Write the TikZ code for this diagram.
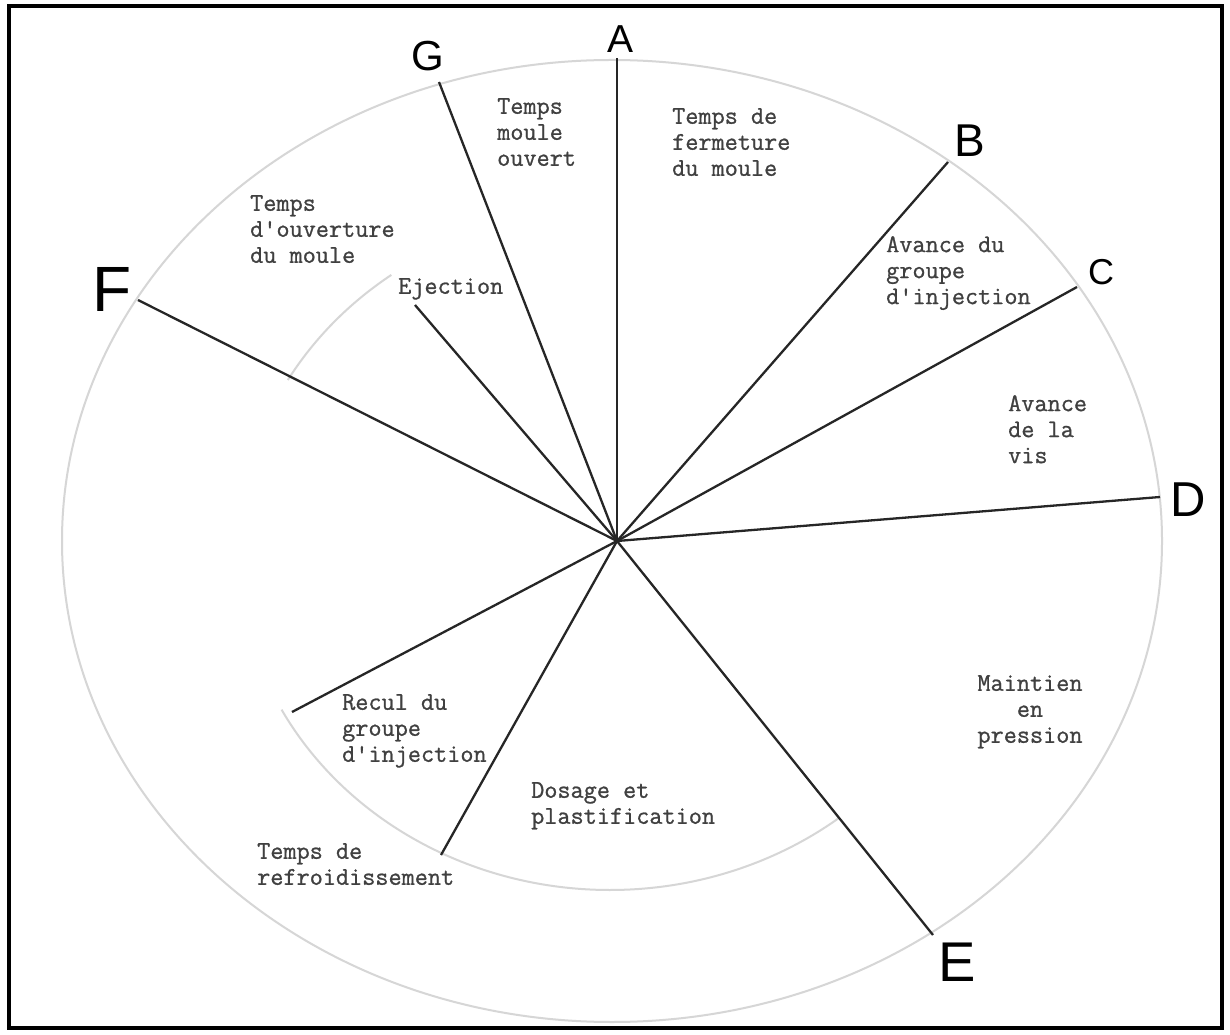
\documentclass[tikz,border=0pt]{standalone}
\usepackage{fontspec}
\newfontfamily\handfont{Liberation Sans}
\newfontfamily\twfont{Latin Modern Mono}[FakeBold=0.9]
\definecolor{ink}{HTML}{262626}
\definecolor{twink}{HTML}{404040}
\definecolor{faint}{HTML}{D6D6D6}
\begin{document}
\begin{tikzpicture}[x=1pt,y=1pt,
  ray/.style={draw=ink,line width=2.3pt},
  ring/.style={draw=faint,line width=2pt},
  tw/.style={inner sep=0pt,text=twink,align=left,anchor=north west,
    font={\twfont\fontsize{25.5}{26}\selectfont}},
  twc/.style={tw,align=center,anchor=north},
  letter/.style={inner sep=0pt,text=black,anchor=center},
]
\useasboundingbox (0,0) rectangle (1230,1034);
\fill[white] (0,0) rectangle (1230,1034);
\draw[line width=4pt,black] (9,6) rectangle (1222,1028);

% centres
\coordinate (O) at (617,493);
\coordinate (oc) at (612,493);
\coordinate (ic) at (610,484);

% faint circles
\draw[ring] (oc) ellipse [x radius=550pt, y radius=481pt];
\draw[ring] ([shift={(126:372pt and 340pt)}]ic) arc[start angle=126,end angle=150,x radius=372pt,y radius=340pt];
\draw[ring] ([shift={(208:372pt and 340pt)}]ic) arc[start angle=208,end angle=308,x radius=372pt,y radius=340pt];

% ray ends
\coordinate (pA) at (617,976);
\coordinate (pB) at (948,872);
\coordinate (pC) at (1077,747);
\coordinate (pD) at (1160,537);
\coordinate (pE) at (933,99);
\coordinate (pF) at (138,734);
\coordinate (pG) at (439,952);
\coordinate (pEj) at (415,729);
\coordinate (pRe) at (292,322);
\coordinate (pDo) at (441,179);

\foreach \p in {pA,pB,pC,pD,pE,pF,pG,pEj,pRe,pDo} \draw[ray] (O) -- (\p);

% big letters
\node[letter,font={\handfont\fontsize{39}{39}\selectfont}] (lA) at (620,995) {A};
\node[letter,font={\handfont\fontsize{42}{42}\selectfont}] (lG) at (428,978) {G};
\node[letter,font={\handfont\fontsize{64}{64}\selectfont}] (lF) at (112,745) {F};
\node[letter,font={\handfont\fontsize{46}{46}\selectfont}] (lB) at (970,893) {B};
\node[letter,font={\handfont\fontsize{36}{36}\selectfont}] (lC) at (1101,762) {C};
\node[letter,font={\handfont\fontsize{49}{49}\selectfont}] (lD) at (1188,534) {D};
\node[letter,font={\handfont\fontsize{56}{56}\selectfont}] (lE) at (957,72) {E};

% phase texts
\node[tw] (tFerm) at (672,926) {Temps de\\fermeture\\du moule};
\node[tw] (tOuv) at (497,936) {Temps\\moule\\ouvert};
\node[tw] (tOuvert) at (250,839) {Temps\\d'ouverture\\du moule};
\node[tw] (tEj) at (398,756) {Ejection};
\node[tw] (tAvG) at (886,798) {Avance du\\groupe\\d'injection};
\node[tw] (tAvV) at (1008,639) {Avance\\de la\\vis};
\node[twc] (tMain) at (1030,359) {Maintien\\en\\pression};
\node[tw] (tRec) at (342,340) {Recul du\\groupe\\d'injection};
\node[tw] (tDos) at (531,252) {Dosage et\\plastification};
\node[tw] (tRef) at (257,191) {Temps de\\refroidissement};
\end{tikzpicture}
\end{document}
